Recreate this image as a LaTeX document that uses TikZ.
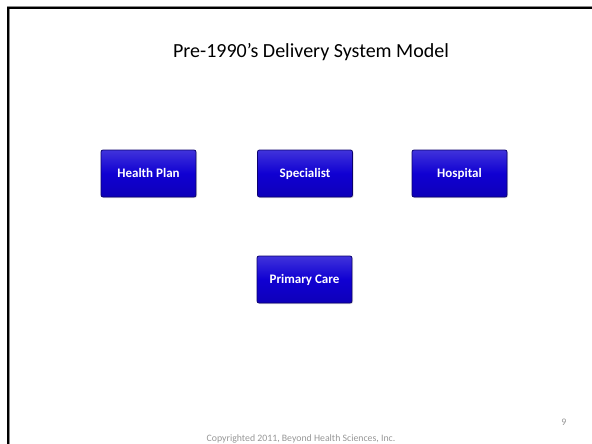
\documentclass[tikz,border=0pt]{standalone}
\usepackage{fontspec}
\setmainfont{Carlito}
\usetikzlibrary{shadows}
\definecolor{boxblue}{RGB}{16,0,210}
\definecolor{boxedge}{RGB}{10,0,110}
\definecolor{foot}{RGB}{150,150,150}
\tikzset{
  bluebox/.style={draw=boxedge, line width=0.8pt, rounded corners=2pt,
    top color=boxblue!80!white, bottom color=boxblue!88!black, middle color=boxblue,
    minimum width=95pt, minimum height=47pt, inner sep=0pt,
    text height=8.4pt, text depth=0pt,
    text=white, font=\fontsize{13}{15}\selectfont\bfseries,
    drop shadow={shadow xshift=1pt, shadow yshift=-1pt, opacity=0.3}},
  frameline/.style={line width=3pt, black!45},
  frameinner/.style={line width=1.6pt, black},
}
\begin{document}
\begin{tikzpicture}[x=1pt,y=-1pt]
\useasboundingbox (0,0) rectangle (592,444);
\begin{scope}
\clip (0,0) rectangle (592,444);
\coordinate (fa) at (8,446);
\coordinate (fb) at (8,8);
\coordinate (fc) at (594,8);
\draw[frameline] (fa) -- (fb) -- (fc);
\draw[frameinner] (fa) -- (fb) -- (fc);
\end{scope}
\node[anchor=base, font=\fontsize{9.8}{11}\selectfont, text=foot] (copy) at (301,441) {Copyrighted 2011, Beyond Health Sciences, Inc.};
\node[anchor=base, font=\fontsize{20}{24}\selectfont] (title) at (311,58) {Pre-1990’s Delivery System Model};
\node[bluebox] (hp) at (148.5,173.5) {Health Plan};
\node[bluebox] (sp) at (305,173.5) {Specialist};
\node[bluebox] (ho) at (459.5,173.5) {Hospital};
\node[bluebox] (pc) at (304.5,279.5) {Primary Care};
\node[anchor=base, font=\fontsize{10}{12}\selectfont, text=foot] (pg) at (564,425) {9};
\end{tikzpicture}
\end{document}
